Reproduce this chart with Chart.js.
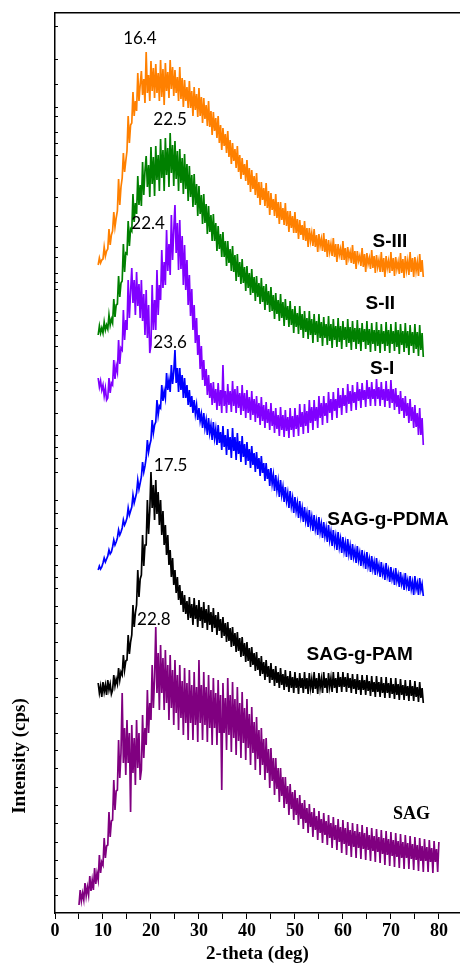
<!DOCTYPE html>
<html lang="en">
<head>
<meta charset="UTF-8">
<title>XRD patterns</title>
<script src="https://cdn.jsdelivr.net/npm/chart.js"></script>
<style>
    body { margin: 0; background: #fff; }
    #wrap { width: 460px; height: 965px; position: relative; }
</style>
</head>
<body>
<div id="wrap"><canvas id="xrd"></canvas></div>
<script>
// 2-theta steps of the scans (deg), 5 to 80
const angles = [
    5,5.25,5.5,5.75,6,6.25,6.5,6.75,7,7.25,7.5,7.75,8,8.25,8.5,8.75,9,9.25,9.5,9.75,
    10,10.25,10.5,10.75,11,11.25,11.5,11.75,12,12.25,12.5,12.75,13,13.25,13.5,13.75,14,14.25,14.5,14.75,
    15,15.25,15.5,15.75,16,16.25,16.5,16.75,17,17.25,17.5,17.75,18,18.25,18.5,18.75,19,19.25,19.5,19.75,
    20,20.25,20.5,20.75,21,21.25,21.5,21.75,22,22.25,22.5,22.75,23,23.25,23.5,23.75,24,24.25,24.5,24.75,
    25,25.25,25.5,25.75,26,26.25,26.5,26.75,27,27.25,27.5,27.75,28,28.25,28.5,28.75,29,29.25,29.5,29.75,
    30,30.25,30.5,30.75,31,31.25,31.5,31.75,32,32.25,32.5,32.75,33,33.25,33.5,33.75,34,34.25,34.5,34.75,
    35,35.25,35.5,35.75,36,36.25,36.5,36.75,37,37.25,37.5,37.75,38,38.25,38.5,38.75,39,39.25,39.5,39.75,
    40,40.25,40.5,40.75,41,41.25,41.5,41.75,42,42.25,42.5,42.75,43,43.25,43.5,43.75,44,44.25,44.5,44.75,
    45,45.25,45.5,45.75,46,46.25,46.5,46.75,47,47.25,47.5,47.75,48,48.25,48.5,48.75,49,49.25,49.5,49.75,
    50,50.25,50.5,50.75,51,51.25,51.5,51.75,52,52.25,52.5,52.75,53,53.25,53.5,53.75,54,54.25,54.5,54.75,
    55,55.25,55.5,55.75,56,56.25,56.5,56.75,57,57.25,57.5,57.75,58,58.25,58.5,58.75,59,59.25,59.5,59.75,
    60,60.25,60.5,60.75,61,61.25,61.5,61.75,62,62.25,62.5,62.75,63,63.25,63.5,63.75,64,64.25,64.5,64.75,
    65,65.25,65.5,65.75,66,66.25,66.5,66.75,67,67.25,67.5,67.75,68,68.25,68.5,68.75,69,69.25,69.5,69.75,
    70,70.25,70.5,70.75,71,71.25,71.5,71.75,72,72.25,72.5,72.75,73,73.25,73.5,73.75,74,74.25,74.5,74.75,
    75,75.25,75.5,75.75,76,76.25,76.5,76.75,77,77.25,77.5,77.75,78,78.25,78.5,78.75,79,79.25,79.5,79.75,
    80];

// stacked intensities (a.u.), the grafted samples start at 9 deg
const sIII = [
    648,655,650,653, 654,666,657,662, 664,684,668,678, 682,701,686,695, 702,734,708,726, 735,760,741,752,
    762,797,770,788, 790,821,797,812, 802,840,812,828, 842,818,834,810, 861,820,838,812, 852,822,845,815,
    849,820,840,812, 853,816,844,808, 850,822,841,815, 853,824,846,817, 843,820,836,812, 846,814,835,806,
    833,812,826,805, 832,805,822,797, 826,803,819,796, 825,797,816,790, 815,794,808,787, 812,786,802,778,
    801,782,795,775, 797,770,788,763, 785,767,779,760, 782,756,773,749, 770,752,764,745, 767,741,758,734,
    755,738,749,732, 753,728,745,721, 743,724,737,718, 740,715,731,708, 731,713,725,707, 730,705,722,698,
    720,703,714,697, 719,695,711,689, 711,693,705,688, 710,687,702,681, 702,685,697,680, 701,680,694,674,
    693,678,688,673, 692,672,685,666, 685,672,680,667, 684,666,678,661, 679,667,674,662, 680,661,674,656,
    673,661,669,657, 675,656,669,651, 669,658,664,653, 672,653,665,648, 666,655,661,650, 668,649,662,644,
    662,652,657,647, 665,646,659,641, 660,649,655,644, 663,645,657,640, 658,646,653,641, 661,641,655,636,
    657,645,652,640, 661,642,655,637, 656,644,651,639, 660,640,654,635, 657,643,652,638, 661,641,655,636,
    656,642,651,637, 659,641,653,636];
const sII = [
    578,587,580,585, 580,591,583,588, 584,598,588,594, 590,614,596,608, 609,637,616,630, 632,669,641,660,
    659,692,667,684, 682,719,691,710, 699,737,708,728, 707,751,718,742, 757,726,748,716, 766,729,756,717,
    767,733,758,722, 774,735,763,722, 775,738,765,726, 780,740,768,727, 772,734,762,722, 764,730,755,719,
    759,724,749,712, 747,716,738,706, 739,708,729,697, 727,699,718,689, 719,690,709,679, 707,681,698,672,
    699,672,690,662, 687,664,679,656, 681,656,672,647, 672,650,664,642, 667,641,658,632, 659,636,651,629,
    654,630,646,622, 647,625,640,618, 644,620,636,612, 637,616,630,609, 635,611,627,603, 629,608,622,601,
    626,602,618,594, 620,599,613,592, 619,595,611,587, 614,593,607,586, 612,588,604,580, 607,586,600,579,
    607,583,599,575, 602,581,595,574, 602,578,594,570, 599,578,592,571, 599,575,591,567, 596,575,589,568,
    597,572,589,565, 594,573,587,566, 595,571,587,564, 592,573,586,566, 594,570,586,563, 592,571,585,564,
    593,569,585,562, 590,571,584,564, 592,568,584,561, 590,569,583,562, 591,567,583,560, 589,569,582,562,
    591,567,583,560, 589,569,582,562, 591,566,583,559, 589,568,582,561, 590,565,582,558, 588,567,581,560,
    589,564,581,557, 588,563,580,556];
const sI = [
    535,526,532,523, 528,517,525,513, 515,535,520,530, 528,553,534,547, 541,573,549,565, 563,603,573,593,
    583,633,595,621, 645,610,633,598, 641,607,629,595, 633,592,619,578, 623,575,608,560, 568,628,583,613,
    583,643,598,628, 613,663,625,651, 628,683,642,669, 638,698,653,683, 708,660,690,643, 693,644,677,628,
    668,623,653,608, 638,597,624,583, 608,570,595,558, 578,544,567,533, 553,527,544,518, 538,515,530,508,
    531,510,524,503, 530,507,523,500, 548,507,522,500, 529,508,522,501, 532,507,524,500, 527,505,520,498,
    528,502,520,495, 523,500,516,493, 522,498,514,491, 517,495,510,488, 516,492,508,485, 511,490,504,483,
    510,487,502,480, 505,484,498,477, 506,483,498,476, 503,482,496,475, 505,483,497,476, 505,484,498,477,
    509,486,501,479, 509,487,502,480, 513,490,506,483, 513,492,506,485, 517,495,510,488, 517,497,510,490,
    521,500,514,493, 521,502,514,495, 525,505,518,498, 525,507,518,500, 529,509,522,502, 528,510,521,503,
    531,512,524,505, 530,513,523,506, 533,514,526,507, 531,514,524,507, 534,514,526,507, 531,513,524,506,
    532,512,524,505, 533,510,524,503, 525,506,518,499, 522,502,515,495, 517,497,510,490, 514,492,506,485,
    508,486,500,478, 505,478,495,468];
const pdma = [
    343,347,344,346, 350,355,351,354, 357,363,359,361, 366,373,368,371, 375,383,378,381, 385,393,388,391,
    395,405,398,402, 406,418,410,415, 420,433,424,430, 436,451,441,447, 455,473,461,468, 473,493,480,488,
    491,513,498,507, 505,528,512,522, 515,540,523,533, 521,548,529,541, 563,530,545,521, 545,523,538,515,
    535,515,528,508, 523,506,517,500, 513,499,508,493, 505,492,499,485, 500,485,493,478, 495,480,488,473,
    491,475,484,468, 488,470,481,463, 487,466,478,458, 484,463,476,455, 485,462,476,453, 480,459,472,451,
    477,456,469,448, 471,452,464,445, 467,448,460,441, 461,444,455,437, 457,440,450,432, 450,434,444,427,
    445,429,438,422, 438,423,432,416, 433,418,426,411, 426,412,420,405, 422,407,415,400, 416,402,410,395,
    412,397,405,391, 406,392,400,386, 403,388,396,382, 398,384,392,378, 396,381,389,375, 391,377,385,371,
    388,373,381,367, 383,369,377,363, 381,366,374,360, 376,362,370,356, 374,359,367,353, 369,356,363,350,
    367,353,360,347, 363,350,357,344, 361,347,354,341, 357,344,351,338, 355,342,348,336, 351,339,345,333,
    350,337,343,331, 346,334,340,328, 345,332,338,326, 341,329,335,323, 340,327,333,322, 337,324,331,318,
    337,324,330,318, 335,323,329,317];
const pam = [
    230,220,227,216, 231,221,228,218, 233,223,229,219, 223,238,227,234, 229,245,233,241, 238,258,243,252,
    253,278,259,271, 278,308,286,300, 308,343,316,334, 338,378,347,368, 368,413,379,402, 441,405,428,393,
    433,399,421,388, 413,378,402,368, 388,358,378,348, 363,336,355,328, 343,320,336,313, 328,308,322,301,
    318,299,312,293, 316,295,309,288, 315,294,308,286, 313,292,306,285, 311,290,304,283, 308,288,301,281,
    305,285,298,278, 301,282,294,275, 296,277,290,271, 291,272,285,266, 286,267,280,261, 281,262,275,256,
    276,257,270,251, 271,252,265,246, 266,248,260,242, 261,243,255,237, 257,239,251,233, 253,236,247,230,
    250,233,244,227, 247,230,241,225, 245,228,239,223, 243,226,237,221, 242,225,236,220, 241,225,235,219,
    240,225,235,220, 241,224,235,219, 240,225,234,220, 241,224,235,219, 240,225,234,220, 241,225,235,220,
    240,226,235,221, 241,225,235,220, 241,226,236,221, 241,226,236,221, 240,225,235,220, 239,224,234,219,
    239,223,233,218, 238,223,233,218, 238,222,232,217, 237,221,231,216, 237,221,231,216, 236,220,230,215,
    236,220,230,215, 235,219,229,214, 235,218,229,213, 234,218,228,213, 233,217,227,212, 233,217,227,212,
    232,216,226,211, 231,215,225,210];
const sag = [
    8,23,12,20, 13,30,17,26, 18,37,22,33, 23,45,29,40, 33,58,40,51, 48,75,55,67,
    68,101,76,92, 93,133,103,122, 123,173,135,160, 220,150,185,138, 193,150,180,101, 188,140,175,128,
    193,145,180,133, 143,198,155,185, 168,223,180,210, 193,248,205,235, 286,220,260,203, 268,220,255,203,
    263,210,248,193, 258,205,243,188, 253,200,238,183, 248,195,232,178, 245,190,230,173, 243,190,228,173,
    241,188,226,171, 253,190,228,173, 241,188,226,171, 238,185,223,168, 235,185,220,168, 233,180,218,123,
    230,180,215,163, 235,178,218,161, 231,175,214,158, 226,172,210,155, 221,170,205,153, 214,165,199,148,
    206,160,191,143, 196,154,183,138, 185,148,174,133, 175,140,164,125, 165,132,155,118, 155,124,145,111,
    145,117,136,105, 136,109,127,98, 129,104,121,93, 123,98,115,88, 118,94,110,84, 113,90,105,80,
    109,86,101,76, 105,83,97,73, 102,80,94,70, 100,78,92,68, 98,75,90,65, 96,73,88,63,
    94,71,86,60, 93,69,85,58, 91,67,83,56, 90,66,82,55, 89,65,81,54, 88,64,80,53,
    86,63,78,52, 85,62,77,51, 84,61,76,50, 83,59,75,48, 82,58,74,47, 81,57,73,46,
    80,56,72,45, 79,55,71,44, 78,55,70,44, 77,54,69,43, 76,53,68,42, 75,52,67,41,
    74,52,66,41, 73,51,65,40, 72,51,64,41, 71];

const xTicks = [0, 5, 10, 15, 20, 25, 30, 35, 40, 45, 50, 55, 60, 65, 70, 75, 80];
const yTicks = [886,853,828,806,796,781,770,758,735,716,686,665,656,640,631,624,601,593,578,566,545,531,523,
    500,478,465,455,440,413,400,385,368,348,336,325,306,290,271,253,235,216,200,180,163,145,126,108,90,71,53,35,18];

const peakLabels = ['16.4', '22.5', '22.4', '23.6', '17.5', '22.8'];
const peakAt = [[17.7, 874], [24.0, 793], [19.4, 689], [24.0, 570], [24.1, 447], [20.6, 293]];
const names = ['S-III', 'S-II', 'S-I', 'SAG-g-PDMA', 'SAG-g-PAM', 'SAG'];
const nameAt = [[69.8, 671], [67.8, 609], [68.2, 544], [69.4, 393], [63.5, 258], [74.3, 99]];

function pts(xs, ys) {
    return ys.map((y, i) => ({ x: xs[i], y: y }));
}

const textPlugin = {
    id: 'texts',
    afterDatasetsDraw(chart) {
        const { ctx, scales: { x, y } } = chart;
        ctx.save();
        ctx.fillStyle = '#000';
        ctx.textAlign = 'center';
        ctx.textBaseline = 'middle';
        ctx.font = '17px Lato';
        peakLabels.forEach((t, i) => {
            ctx.fillText(t, x.getPixelForValue(peakAt[i][0]), y.getPixelForValue(peakAt[i][1]));
        });
        names.forEach((t, i) => {
            ctx.font = i === 5 ? 'bold 18px "Liberation Serif"' : 'bold 19px "Liberation Sans"';
            ctx.fillText(t, x.getPixelForValue(nameAt[i][0]), y.getPixelForValue(nameAt[i][1]));
        });
        // y axis title, sits low on the axis like the original
        ctx.translate(20, y.getPixelForValue(157));
        ctx.rotate(-Math.PI / 2);
        ctx.font = 'bold 19px "Liberation Serif"';
        ctx.fillText('Intensity (cps)', 0, 0);
        ctx.restore();
    }
};

function line(label, xs, ys, color) {
    return { label: label, data: pts(xs, ys), borderColor: color, borderWidth: 1.7,
             pointRadius: 0, tension: 0, fill: false };
}

const grafted = angles.slice(16); // from 9 deg

new Chart(document.getElementById('xrd'), {
    type: 'line',
    data: {
        datasets: [
            line('SAG', angles, sag, '#800080'),
            line('SAG-g-PAM', grafted, pam, '#000000'),
            line('SAG-g-PDMA', grafted, pdma, '#0000FF'),
            line('S-I', grafted, sI, '#8000FF'),
            line('S-II', grafted, sII, '#008000'),
            line('S-III', grafted, sIII, '#FF8000')
        ]
    },
    options: {
        responsive: true,
        maintainAspectRatio: false,
        animation: false,
        layout: { padding: { top: 13, right: 0, left: 0, bottom: 0 } },
        plugins: { legend: { display: false }, tooltip: { enabled: false } },
        scales: {
            x: {
                type: 'linear', min: 0, max: 84.4,
                afterFit: s => { s.height = 52; },
                afterBuildTicks: s => { s.ticks = xTicks.map(v => ({ value: v })); },
                ticks: {
                    autoSkip: false, maxRotation: 0, padding: 2, color: '#000',
                    font: { family: 'Liberation Serif', size: 18, weight: 'bold' },
                    callback: v => (v % 10 === 0 ? v : '')
                },
                grid: { drawOnChartArea: false, tickLength: 6, color: '#000' },
                border: { color: '#000', width: 1.5 },
                title: {
                    display: true, text: '2-theta (deg)', color: '#000', padding: { top: 0, bottom: 0 },
                    font: { family: 'Liberation Serif', size: 19, weight: 'bold' }
                }
            },
            top: {
                type: 'linear', position: 'top', min: 0, max: 84.4,
                afterFit: s => { s.height = 0; },
                ticks: { display: false },
                grid: { display: false, drawTicks: false },
                border: { display: true, color: '#000', width: 1.5 }
            },
            y: {
                type: 'linear', min: 0, max: 900,
                afterFit: s => { s.width = 55; },
                afterBuildTicks: s => { s.ticks = yTicks.map(v => ({ value: v })); },
                ticks: { display: false },
                grid: { drawOnChartArea: false, tickLength: -3, color: '#000' },
                border: { color: '#000', width: 1.5 }
            }
        }
    },
    plugins: [textPlugin]
});
</script>
</body>
</html>
